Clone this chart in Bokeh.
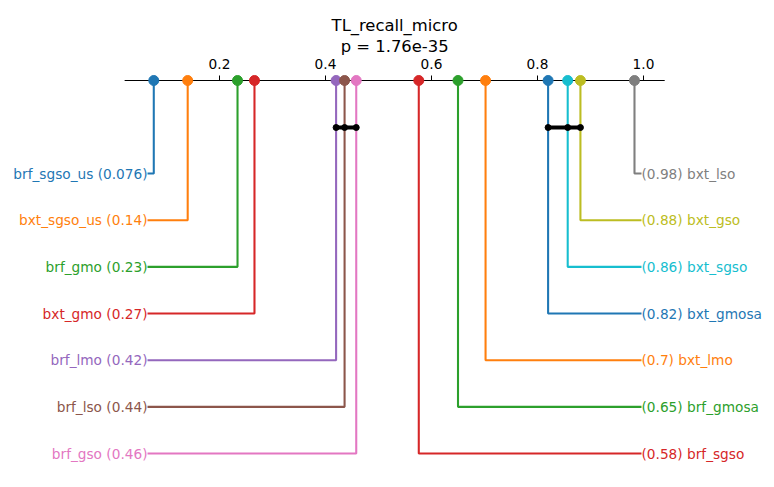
from bokeh.plotting import figure
from bokeh.models import Range1d, ColumnDataSource
from bokeh.core.properties import value
from bokeh.embed import file_html
from bokeh.resources import INLINE

# ---- data ----
title = "TL_recall_micro"
subtitle = "p = 1.76e-35"
names = ["brf_sgso_us", "bxt_sgso_us", "brf_gmo", "bxt_gmo", "brf_lmo", "brf_lso", "brf_gso",
         "brf_sgso", "brf_gmosa", "bxt_lmo", "bxt_gmosa", "bxt_sgso", "bxt_gso", "bxt_lso"]
values = [0.076, 0.14, 0.234, 0.266, 0.42, 0.436, 0.458,
          0.576, 0.65, 0.702, 0.82, 0.857, 0.881, 0.983]
value_labels = ["0.076", "0.14", "0.23", "0.27", "0.42", "0.44", "0.46",
                "0.58", "0.65", "0.7", "0.82", "0.86", "0.88", "0.98"]
colors = ["#1f77b4", "#ff7f0e", "#2ca02c", "#d62728", "#9467bd", "#8c564b", "#e377c2",
          "#d62728", "#2ca02c", "#ff7f0e", "#1f77b4", "#17becf", "#bcbd22", "#7f7f7f"]
tick_values = [0.2, 0.4, 0.6, 0.8, 1.0]
tick_labels = ["0.2", "0.4", "0.6", "0.8", "1.0"]
cliques = [["brf_lmo", "brf_lso", "brf_gso"], ["bxt_gmosa", "bxt_sgso", "bxt_gso"]]

# ---- layout ----
W, H = 774, 487
PX0, PXU = 113.0, 530.0          # pixel of x=0, pixels per unit
axis_lo, axis_hi = 0.021, 1.040
AXIS_Y = 80
ROW0, ROWSTEP = 173, 46.67
CD_Y = 127
left_elbow = (147 - PX0) / PXU
right_elbow = (641 - PX0) / PXU
mid_x = (axis_lo + axis_hi) / 2

p = figure(width=W, height=H, x_range=Range1d(-PX0 / PXU, (W - PX0) / PXU),
           y_range=Range1d(H, 0), x_axis_type=None, y_axis_type=None,
           output_backend="svg", toolbar_location=None,
           min_border=0, min_border_left=0, min_border_right=0,
           min_border_top=0, min_border_bottom=0)
p.grid.visible = False
p.outline_line_color = None
p.background_fill_color = "white"
p.border_fill_color = "white"

FONT = value("DejaVu Sans")
FS = "13.7px"

# title
p.text(x=[mid_x, mid_x], y=[25, 46], text=[title, subtitle], text_font=FONT,
       text_font_size="16.4px", text_align="center", text_baseline="middle", text_color="black")

# axis
p.segment(x0=[axis_lo], y0=[AXIS_Y], x1=[axis_hi], y1=[AXIS_Y], line_color="black", line_width=1.1)
p.segment(x0=tick_values, y0=[AXIS_Y - 5] * len(tick_values), x1=tick_values,
          y1=[AXIS_Y] * len(tick_values), line_color="black", line_width=1)
p.text(x=tick_values, y=[63] * len(tick_values), text=tick_labels, text_font=FONT,
       text_font_size=FS, text_align="center", text_baseline="middle", text_color="black")

n = len(names)
half = n // 2
order = sorted(range(n), key=lambda i: values[i])
left_idx = order[:half]
right_idx = list(reversed(order[half:]))

xs, ys, lc = [], [], []
lt = dict(x=[], y=[], text=[], color=[])
rt = dict(x=[], y=[], text=[], color=[])
for row, i in enumerate(left_idx):
    yy = ROW0 + row * ROWSTEP
    xs.append([values[i], values[i], left_elbow])
    ys.append([AXIS_Y, yy, yy])
    lc.append(colors[i])
    lt["x"].append(left_elbow); lt["y"].append(yy)
    lt["text"].append(f"{names[i]} ({value_labels[i]})"); lt["color"].append(colors[i])
for row, i in enumerate(right_idx):
    yy = ROW0 + row * ROWSTEP
    xs.append([values[i], values[i], right_elbow])
    ys.append([AXIS_Y, yy, yy])
    lc.append(colors[i])
    rt["x"].append(right_elbow); rt["y"].append(yy)
    rt["text"].append(f"({value_labels[i]}) {names[i]}"); rt["color"].append(colors[i])

p.multi_line(xs=xs, ys=ys, line_color=lc, line_width=2.08)

p.text(x="x", y="y", text="text", text_color="color", source=ColumnDataSource(lt),
       text_font=FONT, text_font_size=FS, text_align="right", text_baseline="middle",
       x_offset=0)
p.text(x="x", y="y", text="text", text_color="color", source=ColumnDataSource(rt),
       text_font=FONT, text_font_size=FS, text_align="left", text_baseline="middle",
       x_offset=0)

# markers on axis
p.scatter(x=values, y=[AXIS_Y] * n, size=10, fill_color=colors, line_color=colors)

# cliques
for cl in cliques:
    cv = [values[names.index(m)] for m in cl]
    p.line(x=[min(cv), max(cv)], y=[CD_Y, CD_Y], line_color="black", line_width=4)
    p.scatter(x=cv, y=[CD_Y] * len(cv), size=6, fill_color="black", line_color="black")

open("out.html", "w").write(file_html(p, INLINE))
